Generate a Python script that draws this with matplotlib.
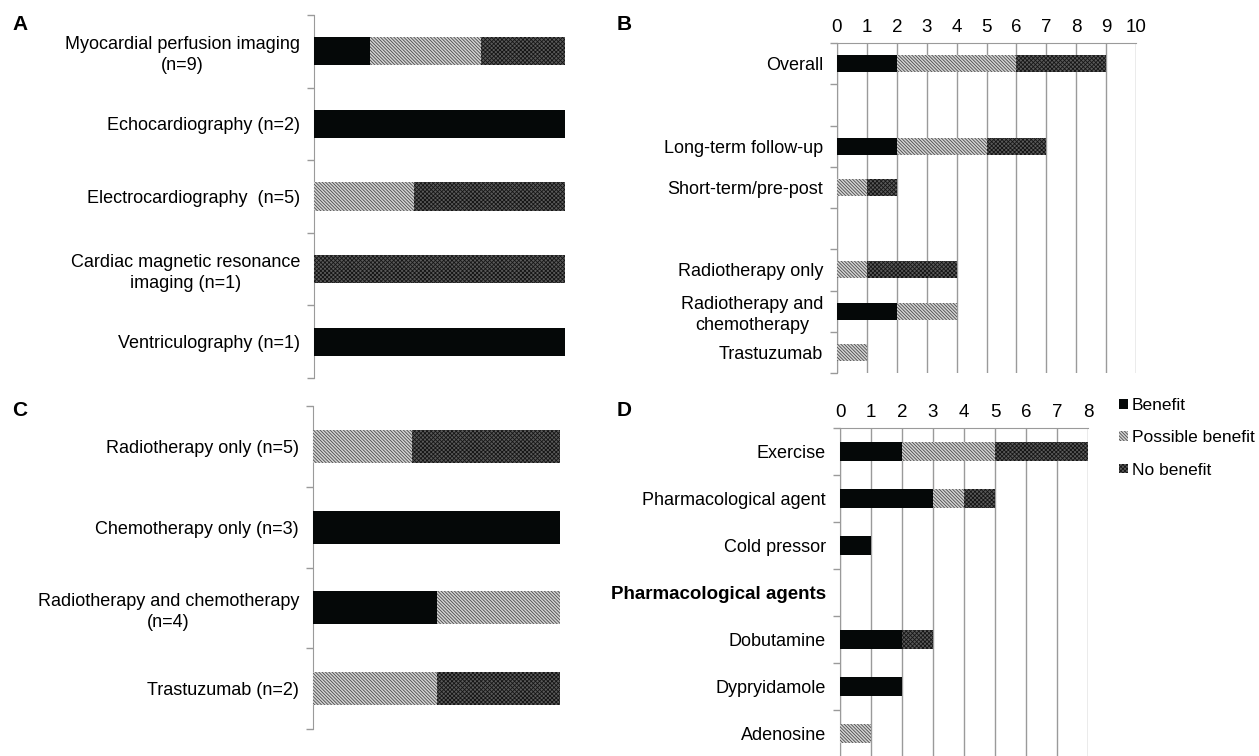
import numpy as np
import matplotlib
matplotlib.use('Agg')
import matplotlib.pyplot as plt
from matplotlib.patches import Patch

plt.rcParams['font.family'] = ['Liberation Sans', 'DejaVu Sans']
plt.rcParams['hatch.linewidth'] = 0.6

# panel A: imaging modality, counts (benefit, possible, none)
a_labels = ['Myocardial perfusion imaging\n(n=9)', 'Echocardiography (n=2)',
            'Electrocardiography  (n=5)', 'Cardiac magnetic resonance\nimaging (n=1)',
            'Ventriculography (n=1)']
a_benefit = [2, 2, 0, 0, 1]
a_possible = [4, 0, 2, 0, 0]
a_none = [3, 0, 3, 1, 0]

# panel B: follow-up / treatment
b_labels = ['Overall', '', 'Long-term follow-up', 'Short-term/pre-post', '',
            'Radiotherapy only', 'Radiotherapy and\nchemotherapy', 'Trastuzumab']
b_benefit = [2, 0, 2, 0, 0, 0, 2, 0]
b_possible = [4, 0, 3, 1, 0, 1, 2, 1]
b_none = [3, 0, 2, 1, 0, 3, 0, 0]

# panel C: cancer treatment
c_labels = ['Radiotherapy only (n=5)', 'Chemotherapy only (n=3)',
            'Radiotherapy and chemotherapy\n(n=4)', 'Trastuzumab (n=2)']
c_benefit = [0, 3, 2, 0]
c_possible = [2, 0, 2, 1]
c_none = [3, 0, 0, 1]

# panel D: stress type
d_labels = ['Exercise', 'Pharmacological agent', 'Cold pressor', 'Pharmacological agents',
            'Dobutamine', 'Dypryidamole', 'Adenosine']
d_benefit = [2, 3, 1, 0, 2, 2, 0]
d_possible = [3, 1, 0, 0, 0, 0, 1]
d_none = [3, 1, 0, 0, 1, 0, 0]

legend_labels = ['Benefit', 'Possible benefit', 'No benefit']

W, H = 1259, 756
fig = plt.figure(figsize=(W / 100, H / 100), dpi=100)

styles = [dict(facecolor='#050808', edgecolor='#050808', hatch=None),
          dict(facecolor='#d4d4d4', edgecolor='#4a4a4a', hatch='\\' * 10),
          dict(facecolor='#5a5a5a', edgecolor='#151515', hatch='x' * 8)]
GRAY = '#9a9a9a'
FS = 13


def px_axes(left, top, right, bottom):
    return fig.add_axes([left / W, 1 - bottom / H, (right - left) / W, (bottom - top) / H])


def stacked(ax, labels, series, height):
    y = np.arange(len(labels))
    left = np.zeros(len(labels))
    for vals, st in zip(series, styles):
        vals = np.asarray(vals, dtype=float)
        ax.barh(y, vals, left=left, height=height, linewidth=0, zorder=3, **st)
        left += vals
    ax.set_ylim(len(labels) - 0.5, -0.5)
    ax.set_yticks(y)
    ax.set_yticklabels(labels, fontsize=FS, multialignment='center', linespacing=1.3)
    ax.set_yticks(np.arange(len(labels) + 1) - 0.5, minor=True)
    ax.tick_params(axis='y', which='major', length=0, pad=10)
    ax.tick_params(axis='y', which='minor', length=5, color=GRAY, width=1)
    for s in ['right', 'bottom']:
        ax.spines[s].set_visible(False)
    ax.spines['left'].set_color(GRAY)


def proportional(ax, labels, b, p, n, height):
    tot = np.array(b) + np.array(p) + np.array(n)
    series = [np.array(b) / tot, np.array(p) / tot, np.array(n) / tot]
    stacked(ax, labels, series, height)
    ax.set_xlim(0, 1)
    ax.set_xticks([])
    ax.spines['top'].set_visible(False)


def counted(ax, labels, b, p, n, height, xmax):
    stacked(ax, labels, [b, p, n], height)
    ax.set_xlim(0, xmax)
    ax.set_xticks(range(xmax + 1))
    ax.xaxis.tick_top()
    ax.tick_params(axis='x', length=0, labelsize=13.5, pad=5)
    ax.grid(axis='x', color=GRAY, linewidth=1, zorder=0)
    ax.spines['top'].set_color(GRAY)


ax_a = px_axes(314, 15, 565, 378)
proportional(ax_a, a_labels, a_benefit, a_possible, a_none, 0.39)

ax_c = px_axes(313, 406, 560, 729)
proportional(ax_c, c_labels, c_benefit, c_possible, c_none, 0.41)

ax_b = px_axes(837, 43, 1136, 373)
counted(ax_b, b_labels, b_benefit, b_possible, b_none, 0.41, 10)

ax_d = px_axes(840, 428, 1088, 757)
counted(ax_d, d_labels, d_benefit, d_possible, d_none, 0.4, 8)
ax_d.get_yticklabels()[3].set_fontweight('bold')
ax_d.get_yticklabels()[3].set_fontsize(13.5)

for letter, x, y in [('A', 12, 25), ('B', 617, 25), ('C', 12, 410), ('D', 617, 410)]:
    fig.text(x / W, 1 - y / H, letter, fontsize=15, fontweight='bold', va='center')

handles = [Patch(linewidth=0, **st) for st in styles]
fig.legend(handles, legend_labels, loc='upper left', bbox_to_anchor=(1112 / W, 1 - 391 / H),
           frameon=False, fontsize=12.5, handlelength=0.5, handleheight=0.5,
           handletextpad=0.25, labelspacing=1.0, borderaxespad=0)

fig.savefig('out.png', dpi=100)
